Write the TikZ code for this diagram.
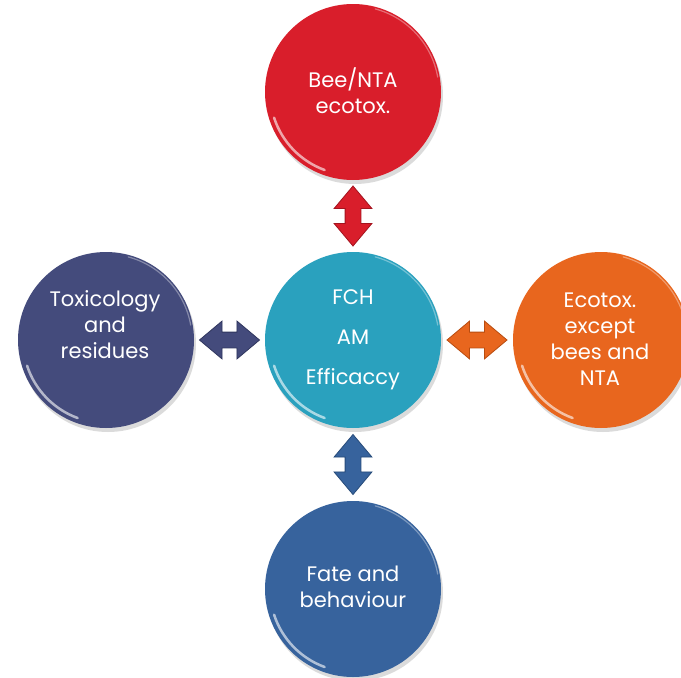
\documentclass[tikz,border=0pt]{standalone}
\usepackage{fontspec}
\setmainfont{Poppins}
\usetikzlibrary{shapes.arrows,shadows,calc}
\definecolor{cRed}{HTML}{D91E2B}
\definecolor{cRedD}{HTML}{A3141F}
\definecolor{cTeal}{HTML}{2AA1BE}
\definecolor{cNavy}{HTML}{444B7C}
\definecolor{cNavyD}{HTML}{30365E}
\definecolor{cOrange}{HTML}{E8661E}
\definecolor{cOrangeD}{HTML}{B84C10}
\definecolor{cBlue}{HTML}{37639D}
\definecolor{cBlueD}{HTML}{274B7A}
\begin{document}
\begin{tikzpicture}[x=1pt,y=1pt,
  ball/.style={circle, minimum size=176pt, inner sep=0pt, draw=none,
    drop shadow={opacity=0.28, shadow xshift=2pt, shadow yshift=-4pt}},
  txt/.style={text=white, align=center, font=\fontsize{21}{26}\selectfont},
  dblarrow/.style={double arrow, inner sep=7.5pt, minimum height=60pt,
    double arrow head extend=11pt, double arrow tip angle=80, line width=0.8pt},
  gloss/.style={white, opacity=0.6, line width=2.5pt, line cap=round},
  rim/.style={white, opacity=0.35, line width=1.2pt, line cap=round}
]
\useasboundingbox (0,0) rectangle (681,-678);
\fill[white] (0,0) rectangle (681,-678);

\node[ball, fill=cRed]    (T) at (353,-92)  {};
\node[ball, fill=cTeal]   (C) at (353,-340) {};
\node[ball, fill=cNavy]   (L) at (106,-340) {};
\node[ball, fill=cOrange] (R) at (601,-340) {};
\node[ball, fill=cBlue]   (B) at (353,-589) {};

\foreach \n in {T,C,L,R,B}{
  \draw[gloss] ($(\n.center)+(198:83pt)$) arc[start angle=198, end angle=250, radius=83pt];
  \draw[rim] ($(\n.center)+(10:86pt)$) arc[start angle=10, end angle=75, radius=86pt];
}

\node[txt] (Tt) at (353,-91)  {Bee/NTA\\ecotox.};
\node[txt, font=\fontsize{21}{40}\selectfont] (Ct) at (353,-340) {FCH\\AM\\Efficaccy};
\node[txt] (Lt) at (105,-325) {Toxicology\\and\\residues};
\node[txt] (Rt) at (600,-339) {Ecotox.\\except\\bees and\\NTA};
\node[txt] (Bt) at (353,-587) {Fate and\\behaviour};

\path (C) -- (T) node[midway, dblarrow, rotate=90, fill=cRed, draw=cRedD] (aT) {};
\path (C) -- (L) node[midway, dblarrow, fill=cNavy, draw=cNavyD] (aL) {};
\path (C) -- (R) node[midway, dblarrow, fill=cOrange, draw=cOrangeD] (aR) {};
\path (C) -- (B) node[midway, dblarrow, rotate=90, fill=cBlue, draw=cBlueD] (aB) {};
\end{tikzpicture}
\end{document}
